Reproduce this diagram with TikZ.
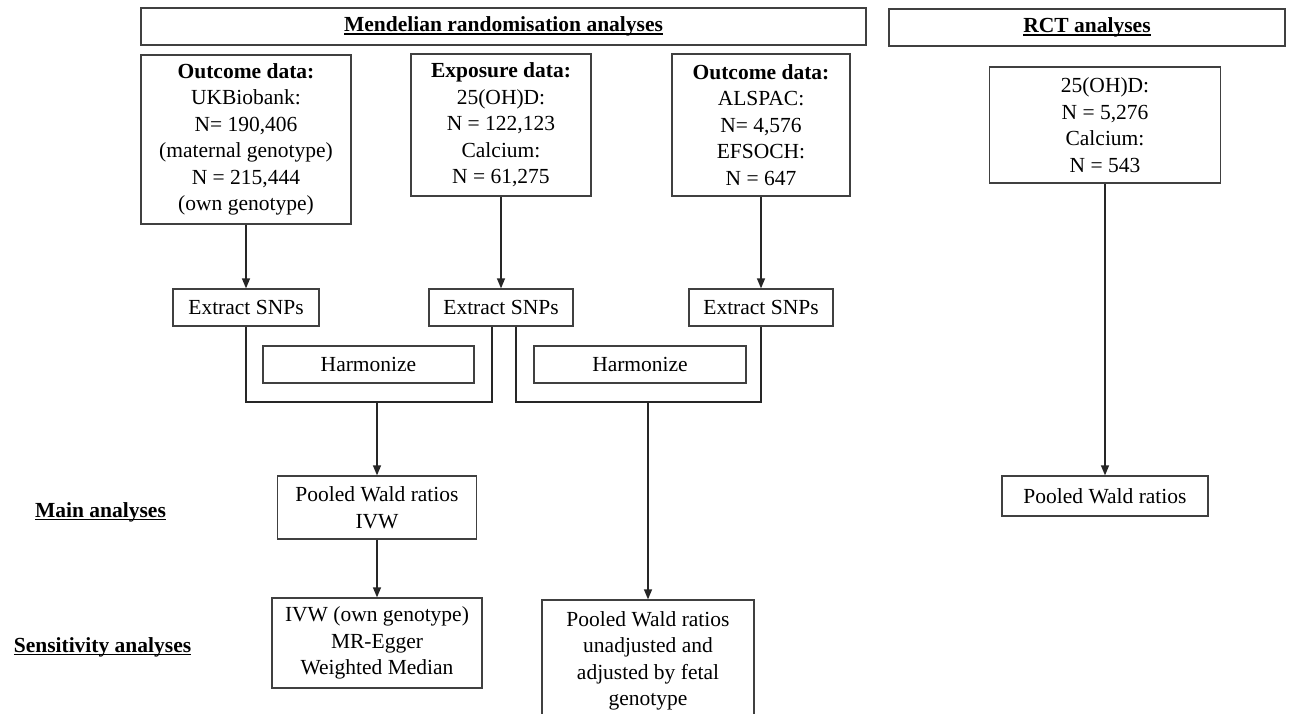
\documentclass[tikz,border=0pt]{standalone}
\usepackage{fontspec}
\setmainfont{Liberation Serif}
\usetikzlibrary{arrows.meta}
\newcommand{\ulx}[1]{\setbox0\hbox{#1}\rlap{\rule[-3pt]{\wd0}{1.3pt}}\box0}
\tikzset{
  box/.style={draw=black!75, line width=1.3pt, rectangle, inner sep=0pt, align=center, text=black},
  line/.style={draw=black!85, line width=1.3pt},
  arr/.style={line, -{Triangle[length=10pt,width=8pt]}},
  lbl/.style={inner sep=0pt, text=black}
}
\begin{document}
\begin{tikzpicture}[x=1pt,y=-1pt,font=\fontsize{21.5}{26.5}\selectfont]
\clip (0,0) rectangle (1290,713);
\fill[white] (0,0) rectangle (1290,713);
% headers
\node[box, minimum width=725, minimum height=37] (mr) at (503.5,26.5) {\textbf{\ulx{Mendelian randomisation analyses}}};
\node[box, minimum width=396, minimum height=37] (rct) at (1087,27.5) {\textbf{\ulx{RCT analyses}}};
% data boxes
\node[box, minimum width=210, minimum height=169] (out1) at (246,139.5) {\textbf{Outcome data:}\\UKBiobank:\\N= 190,406\\(maternal genotype)\\N = 215,444\\(own genotype)};
\node[box, minimum width=180, minimum height=142] (expo) at (501,125) {\textbf{Exposure data:}\\25(OH)D:\\N = 122,123\\Calcium:\\N = 61,275};
\node[box, minimum width=178, minimum height=142] (out2) at (761,125) {\textbf{Outcome data:}\\ALSPAC:\\N= 4,576\\EFSOCH:\\N = 647};
\node[box, minimum width=231, minimum height=116] (rctd) at (1105,125) {25(OH)D:\\N = 5,276\\Calcium:\\N = 543};
% extract
\node[box, minimum width=146, minimum height=37] (ex1) at (246,307.5) {Extract SNPs};
\node[box, minimum width=144, minimum height=37] (ex2) at (501,307.5) {Extract SNPs};
\node[box, minimum width=144, minimum height=37] (ex3) at (761,307.5) {Extract SNPs};
% harmonize
\node[box, minimum width=211, minimum height=37] (h1) at (368.5,364.5) {Harmonize};
\node[box, minimum width=212, minimum height=37] (h2) at (640,364.5) {Harmonize};
% results
\node[box, minimum width=199, minimum height=63] (pw) at (377,507.5) {Pooled Wald ratios\\IVW};
\node[box, minimum width=210, minimum height=90] (ivw) at (377,643) {IVW (own genotype)\\MR-Egger\\Weighted Median};
\node[box, minimum width=212, minimum height=122] (big) at (648,661) {Pooled Wald ratios\\unadjusted and\\adjusted by fetal\\genotype};
\node[box, minimum width=206, minimum height=40] (rctp) at (1105,496) {Pooled Wald ratios};
% labels
\node[lbl] (main) at (100.5,512) {\textbf{\ulx{Main analyses}}};
\node[lbl] (sens) at (102.5,647) {\textbf{\ulx{Sensitivity analyses}}};
% junctions
\coordinate (j1) at (377,402);
\coordinate (j2) at (648,402);
% connectors
\draw[arr] (out1.south) -- (ex1.north);
\draw[arr] (expo.south) -- (ex2.north);
\draw[arr] (out2.south) -- (ex3.north);
\draw[line] (ex1.south) |- (j1) -| ([xshift=-9pt]ex2.south);
\draw[line] ([xshift=15pt]ex2.south) |- (j2) -| (ex3.south);
\draw[arr] (j1) -- (pw.north);
\draw[arr] (j2) -- (big.north);
\draw[arr] (pw.south) -- (ivw.north);
\draw[arr] (rctd.south) -- (rctp.north);
\end{tikzpicture}
\end{document}
